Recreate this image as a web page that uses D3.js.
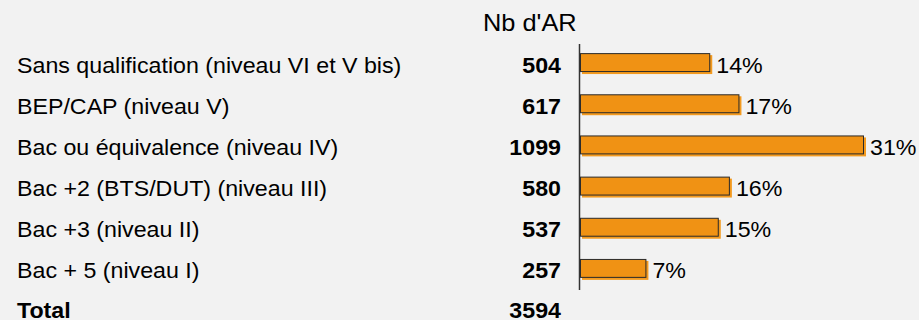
<!DOCTYPE html>
<html>
<head>
<meta charset="utf-8">
<script src="https://cdn.jsdelivr.net/npm/d3@7"></script>
<style>
  html, body { margin: 0; padding: 0; background: #f2f2f2; }
  svg { display: block; font-family: "Liberation Sans", Arial, sans-serif; }
</style>
</head>
<body>
<svg id="chart" width="919" height="320"></svg>
<script>
// Niveaux de diplôme et nombre d'AR
const categories = [
  "Sans qualification (niveau VI et V bis)",
  "BEP/CAP (niveau V)",
  "Bac ou équivalence (niveau IV)",
  "Bac +2 (BTS/DUT) (niveau III)",
  "Bac +3 (niveau II)",
  "Bac + 5 (niveau I)"
];
const counts = [504, 617, 1099, 580, 537, 257];
const totalLabel = "Total";
const columnTitle = "Nb d'AR";

const total = d3.sum(counts);
const rows = categories.map((c, i) => ({ cat: c, n: counts[i] }));

const svg = d3.select("#chart");
const W = 919, H = 320;
svg.append("rect").attr("width", W).attr("height", H).attr("fill", "#f2f2f2");

const x = d3.scaleLinear().domain([0, d3.max(counts)]).range([580, 864]);
const y = d3.scaleBand().domain(categories).range([42, 289])
  .paddingInner(0.54).paddingOuter(0.27);

const fontSize = 21.5;
const stretch = 1.08;           // slightly wide lettering
const baseOff = 10;             // baseline below the row centre

// Text helper: places a horizontally stretched label at (px, py)
function label(g, px, py, txt, opts = {}) {
  return g.append("text")
    .attr("transform", `translate(${px},${py}) scale(${stretch},1)`)
    .attr("font-size", opts.size || fontSize)
    .attr("font-weight", opts.bold ? "bold" : null)
    .attr("text-anchor", opts.anchor || "start")
    .attr("fill", "#000")
    .text(txt);
}

const rowMid = d => y(d.cat) + y.bandwidth() / 2;

// Column header
label(svg, 483, 31, columnTitle, { size: 23.5 });

// Category labels and counts
const textG = svg.append("g");
rows.forEach(d => {
  label(textG, 17, rowMid(d) + baseOff, d.cat);
  label(textG, 561, rowMid(d) + baseOff, d.n, { bold: true, anchor: "end" });
});

// Bars: offset orange shadow, then outlined bar
const bars = svg.append("g");
bars.selectAll("rect.shadow").data(rows).join("rect")
  .attr("class", "shadow")
  .attr("x", x(0) + 2)
  .attr("y", d => y(d.cat) + 2)
  .attr("width", d => x(d.n) - x(0))
  .attr("height", y.bandwidth())
  .attr("fill", "#f39a1f");
bars.selectAll("rect.bar").data(rows).join("rect")
  .attr("class", "bar")
  .attr("x", x(0) + 0.5)
  .attr("y", d => y(d.cat) + 0.5)
  .attr("width", d => x(d.n) - x(0) - 1)
  .attr("height", y.bandwidth() - 1)
  .attr("fill", "#f09214")
  .attr("stroke", "#2a2a2a")
  .attr("stroke-width", 1);

// Vertical axis line
svg.append("line")
  .attr("x1", 579.5).attr("x2", 579.5)
  .attr("y1", 44).attr("y2", 290)
  .attr("stroke", "#333").attr("stroke-width", 1.5);

// Percent labels
const pctG = svg.append("g");
rows.forEach(d => {
  label(pctG, x(d.n) + 6, rowMid(d) + baseOff, Math.round(d.n / total * 100) + "%");
});

// Total row
label(svg, 17, 318, totalLabel, { bold: true });
label(svg, 561, 318, total, { bold: true, anchor: "end" });
</script>
</body>
</html>
